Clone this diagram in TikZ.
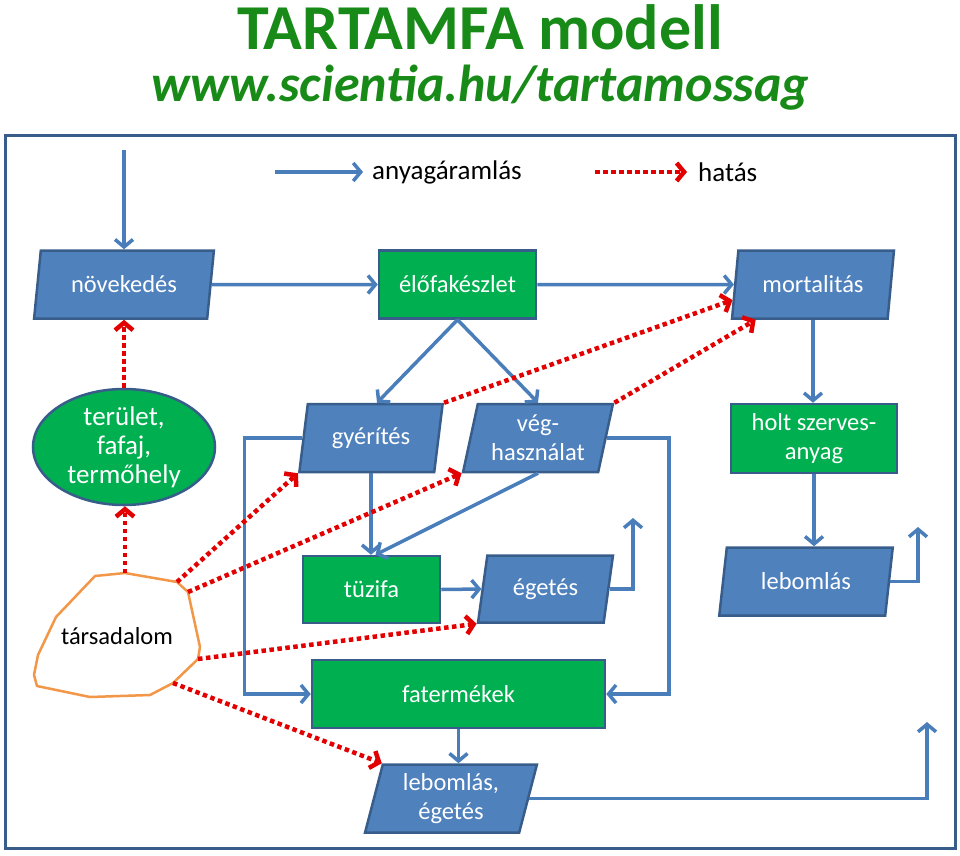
\documentclass[tikz,border=0pt]{standalone}
\usepackage{fontspec}
\setmainfont{Carlito}
\usetikzlibrary{arrows.meta,shapes.geometric,calc}

\definecolor{boxblue}{RGB}{79,129,189}
\definecolor{boxline}{RGB}{56,93,138}
\definecolor{boxgreen}{RGB}{0,176,80}
\definecolor{flowblue}{RGB}{74,126,187}
\definecolor{effred}{RGB}{226,0,0}
\definecolor{titlegreen}{RGB}{24,138,24}
\definecolor{socorange}{RGB}{242,150,72}

\begin{document}
\begin{tikzpicture}[x=1pt,y=-1pt,>={Straight Barb[length=7.5pt,width=18pt]}]
  \tikzstyle{every node}=[font=\fontsize{24.5}{29}\selectfont]
  \tikzstyle{proc}=[trapezium,trapezium left angle=76,trapezium right angle=104,
  		    trapezium stretches=true,draw=boxline,line width=2.5pt,
  		    fill=boxblue,text=white,align=center,minimum height=68pt,inner sep=0pt]
  \tikzstyle{store}=[rectangle,draw=boxline,line width=2.5pt,fill=boxgreen,
  		     text=white,align=center,minimum height=68pt,inner sep=0pt]
  \tikzstyle{flow}=[->,draw=flowblue,line width=3.5pt]
  \tikzstyle{effect}=[->,draw=effred,line width=4.5pt,dash pattern=on 4.5pt off 3.5pt]
  \useasboundingbox (0,0) rectangle (960,855);

  % title
  \node[text=titlegreen,font=\fontsize{64}{70}\selectfont\bfseries] (title) at (480,27) {TARTAMFA modell};
  \node[text=titlegreen,font=\fontsize{52}{60}\selectfont\bfseries\itshape] (url) at (480,88) {www.scientia.hu/tartamossag};
  \draw[boxline,line width=3pt] (5,135) rectangle (955,848);

  % legend
  \node[anchor=west,inner sep=0pt,font=\fontsize{27}{30}\selectfont] (lflow) at (372,172) {anyagáramlás};
  \node[anchor=west,inner sep=0pt,font=\fontsize{27}{30}\selectfont] (leff) at (698,172) {hatás};
  \coordinate (lf) at (275,172);
  \coordinate (le) at (595,172);
  \draw[flow] (lf) -- ([xshift=-9pt]lflow.west);
  \draw[effect] (le) -- ([xshift=-11pt]leff.west);

  % top row
  \node[proc,minimum width=180pt] (nov) at (124,284.5) {növekedés};
  \node[store,minimum width=157pt] (elo) at (457.5,284.5) {élőfakészlet};
  \node[proc,minimum width=162pt] (mort) at (813,284.5) {mortalitás};
  \node[ellipse,draw=boxline,line width=2.5pt,fill=boxgreen,text=white,align=center,
        font=\fontsize{27}{29}\selectfont,
        minimum width=182pt,minimum height=116pt,inner sep=0pt] (ter) at (124,447) {terület,\\fafaj,\\termőhely};

  % middle
  \node[proc,minimum width=144pt] (gyer) at (371,438) {gyérítés};
  \node[proc,minimum width=150pt] (veg) at (538,438) {vég-\\használat};
  \node[store,minimum width=166pt,minimum height=69pt] (holt) at (814,438.5) {holt szerves-\\anyag};
  \node[store,minimum width=137pt,minimum height=67pt] (tuz) at (371.5,589.5) {tüzifa};
  \node[proc,minimum width=135pt,minimum height=67pt] (eg) at (545.5,589) {égetés};
  \node[proc,minimum width=174pt] (leb) at (806,581.5) {lebomlás};
  \node[store,minimum width=293pt] (fat) at (458.5,694) {fatermékek};
  \node[proc,minimum width=172pt] (lebeg) at (451,798.5) {lebomlás,\\égetés};

  % society
  \coordinate (s1) at (95,576);
  \coordinate (s2) at (125,573);
  \coordinate (s3) at (177,582);
  \coordinate (s4) at (188,592);
  \coordinate (s5) at (200,647);
  \coordinate (s6) at (198,659);
  \coordinate (s7) at (173,683);
  \coordinate (s8) at (150,695);
  \coordinate (s9) at (90,697);
  \coordinate (s10) at (37,686);
  \coordinate (s11) at (34,675);
  \coordinate (s12) at (38,655);
  \coordinate (s13) at (56,617);
  \draw[socorange,line width=2.5pt,line join=round] (s1) -- (s2) -- (s3) -- (s4) -- (s5) -- (s6) -- (s7)
    -- (s8) -- (s9) -- (s10) -- (s11) -- (s12) -- (s13) -- cycle;
  \node (tars) at (117,636) {társadalom};

  % free ends
  \coordinate (in) at (124,150);
  \coordinate (out1) at (633,518);
  \coordinate (out2) at (918,527);
  \coordinate (out3) at (927,722);

  % material flow
  \draw[flow] (in) -- (in |- nov.north);
  \draw[flow] (nov.east) -- (elo.west);
  \draw[flow] (elo.east) -- (mort.west);
  \draw[flow] (elo.south) -- ([xshift=6pt]gyer.north);
  \draw[flow] (elo.south) -- (veg.north);
  \draw[flow] (mort.south) -- (mort.south |- holt.north);
  \draw[flow] (holt.south) -- (holt.south |- leb.north);
  \draw[flow] (gyer.south) -- (gyer.south |- tuz.north);
  \draw[flow] (veg.south) -- ([xshift=4pt]tuz.north);
  \draw[flow] (tuz.east) -- (eg.west);
  \draw[flow] (gyer.west) -- ++(-58,0) |- (fat.west);
  \draw[flow] (veg.east) -- ++(62,0) |- (fat.east);
  \draw[flow] (fat.south) -- (fat.south |- lebeg.north);
  \draw[flow] (eg.east) -| (out1);
  \draw[flow] (leb.east) -| (out2);
  \draw[flow] (lebeg.east) -| (out3);

  % effects
  \draw[effect] (ter.north) -- (ter.north |- nov.south);
  \draw[effect] (s2) -- (s2 |- ter.south);
  \draw[effect] (s3) -- (gyer.bottom left corner);
  \draw[effect] (s4) -- (veg.bottom left corner);
  \draw[effect] (s6) -- (eg.bottom left corner);
  \draw[effect] (s7) -- (lebeg.top left corner);
  \draw[effect] (gyer.top right corner) -- ($(mort.bottom left corner)!0.28!(mort.top left corner)$);
  \draw[effect] (veg.top right corner) -- ([xshift=25pt]mort.bottom left corner);
\end{tikzpicture}
\end{document}
